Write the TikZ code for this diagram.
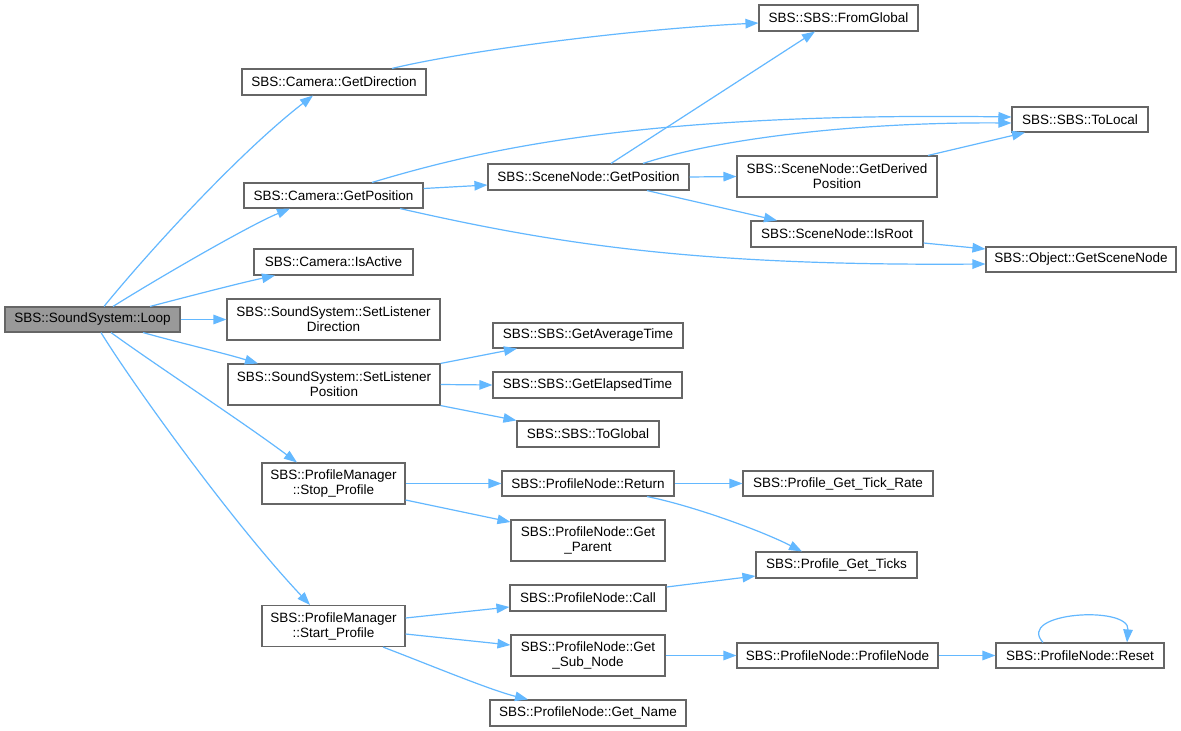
\documentclass[tikz,border=0pt]{standalone}
\usepackage{fontspec}
\setmainfont{Liberation Sans}
\usetikzlibrary{arrows.meta}
\definecolor{edgeblue}{HTML}{63B8FF}
\definecolor{boxgray}{HTML}{666666}
\definecolor{loopfill}{HTML}{999999}
\begin{document}
\begin{tikzpicture}[x=1pt,y=-1pt,
  box/.style={draw=boxgray, line width=1.1pt, inner sep=0pt, align=center, fill=white,
    font=\fontsize{13.5}{15}\selectfont},
  calls/.style={draw=edgeblue, line width=1.2pt, -{Triangle[length=13pt,width=9.5pt]}, fill=none}]
\fill[white] (0,0) rectangle (1181,731);
% nodes
\node[box, fill=loopfill, minimum width=175pt, minimum height=25pt] (loop) at (92.5,319.5) {SBS::SoundSystem::Loop};
\node[box, minimum width=184pt, minimum height=26pt] (gdir) at (334,82) {SBS::Camera::GetDirection};
\node[box, minimum width=179pt, minimum height=25pt] (cgpos) at (333.5,195.5) {SBS::Camera::GetPosition};
\node[box, minimum width=159pt, minimum height=26pt] (isact) at (333.5,262) {SBS::Camera::IsActive};
\node[box, minimum width=213pt, minimum height=41pt] (sldir) at (333.5,319.5) {SBS::SoundSystem::SetListener\\Direction};
\node[box, minimum width=212pt, minimum height=41pt] (slpos) at (334,384.5) {SBS::SoundSystem::SetListener\\Position};
\node[box, minimum width=143pt, minimum height=41pt] (stop) at (333.5,483.5) {SBS::ProfileManager\\::Stop\_Profile};
\node[box, minimum width=143pt, minimum height=41pt] (start) at (333.5,626) {SBS::ProfileManager\\::Start\_Profile};
\node[box, minimum width=159pt, minimum height=26pt] (fromg) at (838.5,18) {SBS::SBS::FromGlobal};
\node[box, minimum width=201pt, minimum height=26pt] (sngpos) at (588.5,177) {SBS::SceneNode::GetPosition};
\node[box, minimum width=136pt, minimum height=25pt] (tolocal) at (1080,119.5) {SBS::SBS::ToLocal};
\node[box, minimum width=200pt, minimum height=41pt] (gdpos) at (837,176.5) {SBS::SceneNode::GetDerived\\Position};
\node[box, minimum width=172pt, minimum height=26pt] (isroot) at (837,234) {SBS::SceneNode::IsRoot};
\node[box, minimum width=190pt, minimum height=25pt] (gsn) at (1081,259.5) {SBS::Object::GetSceneNode};
\node[box, minimum width=190pt, minimum height=25pt] (gavg) at (588,335.5) {SBS::SBS::GetAverageTime};
\node[box, minimum width=189pt, minimum height=26pt] (gel) at (587.5,385) {SBS::SBS::GetElapsedTime};
\node[box, minimum width=142pt, minimum height=26pt] (toglob) at (588,434) {SBS::SBS::ToGlobal};
\node[box, minimum width=172pt, minimum height=25pt] (ret) at (588,483.5) {SBS::ProfileNode::Return};
\node[box, minimum width=154pt, minimum height=41pt] (gpar) at (588,540.5) {SBS::ProfileNode::Get\\\_Parent};
\node[box, minimum width=156pt, minimum height=26pt] (call) at (588,598) {SBS::ProfileNode::Call};
\node[box, minimum width=154pt, minimum height=41pt] (gsub) at (588,655.5) {SBS::ProfileNode::Get\\\_Sub\_Node};
\node[box, minimum width=196pt, minimum height=26pt] (gname) at (588,713) {SBS::ProfileNode::Get\_Name};
\node[box, minimum width=190pt, minimum height=25pt] (rate) at (838,483.5) {SBS::Profile\_Get\_Tick\_Rate};
\node[box, minimum width=161pt, minimum height=26pt] (ticks) at (836.5,565) {SBS::Profile\_Get\_Ticks};
\node[box, minimum width=201pt, minimum height=25pt] (pnode) at (837.5,655.5) {SBS::ProfileNode::ProfileNode};
\node[box, minimum width=168pt, minimum height=25pt] (reset) at (1080,655.5) {SBS::ProfileNode::Reset};
% edges from Loop
\draw[calls] ([xshift=11.5pt]loop.north) .. controls (150,250) and (240,152) .. ([xshift=-21pt]gdir.south);
\draw[calls] ([xshift=20.5pt]loop.north) .. controls (160,277) and (250,225) .. ([xshift=-43.5pt]cgpos.south);
\draw[calls] ([xshift=57.5pt]loop.north) .. controls (190,296) and (240,283) .. ([xshift=-58.5pt]isact.south);
\draw[calls] (loop.east) -- (sldir.west);
\draw[calls] ([xshift=50.5pt]loop.south) .. controls (180,343) and (220,352) .. ([xshift=-76pt]slpos.north);
\draw[calls] ([xshift=18.5pt]loop.south) .. controls (160,368) and (240,420) .. ([xshift=-36.5pt]stop.north);
\draw[calls] ([xshift=8.5pt]loop.south) .. controls (130,380) and (230,520) .. ([xshift=-23.5pt]start.north);
% camera
\draw[calls] ([xshift=58pt]gdir.north) .. controls (460,52) and (620,30) .. ([yshift=-5pt]fromg.west);
\draw[calls] ([xshift=38.5pt]cgpos.north) .. controls (480,150) and (640,112) .. ([yshift=2.5pt]tolocal.west);
\draw[calls] ([yshift=7pt]cgpos.east) -- ([yshift=-8pt]sngpos.west);
\draw[calls] ([xshift=66.5pt]cgpos.south) .. controls (560,245) and (700,266) .. ([yshift=-4.5pt]gsn.west);
% scene node
\draw[calls] ([xshift=22.5pt]sngpos.north) -- ([xshift=-23.5pt]fromg.south);
\draw[calls] ([xshift=54.5pt]sngpos.north) .. controls (720,138) and (860,122) .. ([yshift=-3.5pt]tolocal.west);
\draw[calls] (sngpos.east) -- (gdpos.west);
\draw[calls] ([xshift=58.5pt]sngpos.south) -- ([xshift=-60pt]isroot.north);
\draw[calls] ([xshift=91pt]gdpos.north) -- ([xshift=-55pt]tolocal.south);
\draw[calls] ([yshift=-9pt]isroot.east) -- ([yshift=10.5pt]gsn.west);
% listener position
\draw[calls] (slpos.north east) -- ([xshift=-71pt]gavg.south);
\draw[calls] (slpos.east) -- (gel.west);
\draw[calls] (slpos.south east) -- (toglob.north west);
% profile
\draw[calls] (stop.east) -- (ret.west);
\draw[calls] ([yshift=-16.5pt]stop.east) -- ([yshift=18.5pt]gpar.west);
\draw[calls] (ret.east) -- (rate.west);
\draw[calls] ([xshift=59pt]ret.south) .. controls (690,505) and (760,530) .. ([xshift=-34.5pt]ticks.north);
\draw[calls] ([yshift=11pt]call.east) -- ([yshift=-11pt]ticks.west);
\draw[calls] ([yshift=8pt]start.east) -- ([yshift=-9pt]call.west);
\draw[calls] ([yshift=-8pt]start.east) -- ([yshift=10.5pt]gsub.west);
\draw[calls] ([xshift=49.5pt]start.south) .. controls (430,665) and (490,690) .. ([xshift=-60pt]gname.north);
\draw[calls] (gsub.east) -- (pnode.west);
\draw[calls] (pnode.east) -- (reset.west);
\draw[calls] ([xshift=-37pt]reset.north) .. controls (1015,612) and (1130,605) .. ([xshift=47pt]reset.north);
\end{tikzpicture}
\end{document}
